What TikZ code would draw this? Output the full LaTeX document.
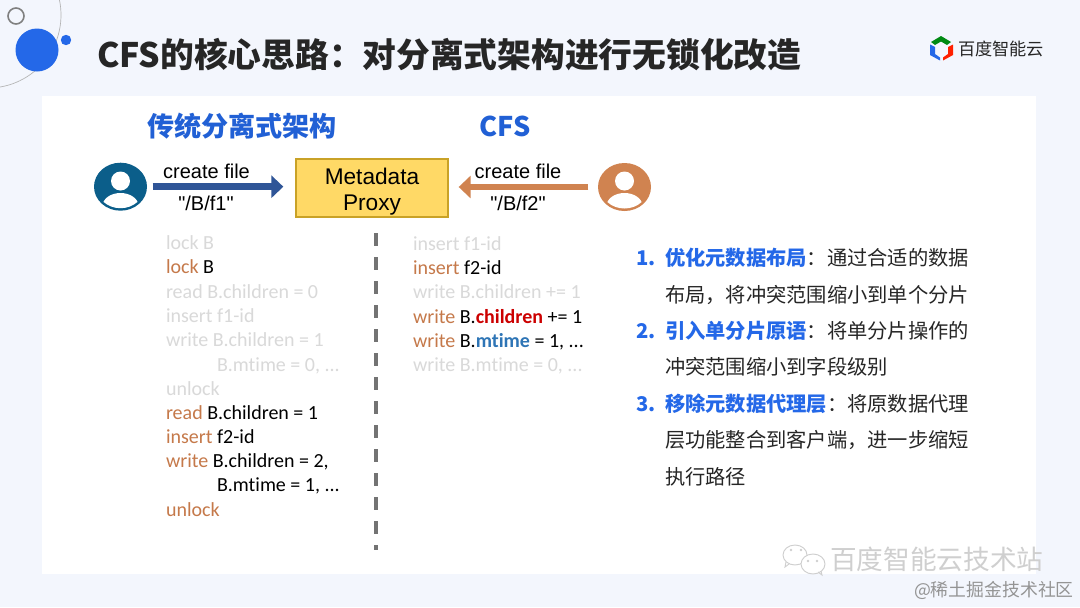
\documentclass[tikz,border=0pt]{standalone}
\usepackage{fontspec}
\usetikzlibrary{shapes.geometric,arrows.meta}
\newfontfamily\cjkf{Noto Sans CJK SC}
\newfontfamily\arialf{Liberation Sans}
\newfontfamily\codef[Ligatures=NoCommon]{Carlito}
\definecolor{bgc}{HTML}{F3F6FD}
\definecolor{blueA}{HTML}{2468E8}
\definecolor{ghost}{HTML}{D9D9D9}
\definecolor{orng}{HTML}{C5794A}
\definecolor{userO}{HTML}{D08350}
\definecolor{userB}{HTML}{0B5E8A}
\definecolor{arrB}{HTML}{2F5597}
\definecolor{dark}{HTML}{262626}
\definecolor{wm}{HTML}{CFCFCF}
\definecolor{boxF}{HTML}{FFD966}
\definecolor{boxE}{HTML}{C9A227}
\newcommand{\ok}[1]{\textcolor{orng}{#1}}
\tikzset{
 txt/.style={anchor=base west,inner sep=0pt,outer sep=0pt},
 code/.style={txt,font=\codef\fontsize{15pt}{18pt}\selectfont},
 ghostcode/.style={code,text=ghost},
 sans/.style={anchor=base,inner sep=0pt,font=\arialf\fontsize{15pt}{18pt}\selectfont},
 head/.style={anchor=base,inner sep=0pt,font=\cjkf\bfseries\fontsize{20.3pt}{24pt}\selectfont,text=blueA!92!black},
 item/.style={txt,font=\cjkf\fontsize{15.2pt}{18pt}\selectfont,text=dark},
 num/.style={txt,font=\cjkf\bfseries\fontsize{15.2pt}{18pt}\selectfont,text=blueA},
 user/.style={ellipse,minimum width=39.75pt,minimum height=36pt,inner sep=0pt,fill=#1},
 bigarrow/.style={draw=#1,line width=5pt,-{Triangle[length=9pt,width=16.5pt]}},
}
\begin{document}
\begin{tikzpicture}[x=0.75pt,y=-0.75pt]
\useasboundingbox (0,0) rectangle (1080,607);
\fill[bgc] (0,0) rectangle (1080,607);
\fill[white] (42,96) rectangle (1036,574);
% decoration
\begin{scope}
\clip (0,0) rectangle (200,100);
\draw[gray!60,line width=0.5pt] (-12,15) circle (73);
\end{scope}
\draw[gray,line width=1.2pt] (16,16) circle (8);
\fill[blueA] (37,50) circle (21.5);
\fill[blueA] (66,40) circle (5.2);
% title
\node[txt,font=\cjkf\bfseries\fontsize{25.3pt}{30pt}\selectfont,text=dark] (title) at (97,67.5) {CFS的核心思路：对分离式架构进行无锁化改造};
% logo
\fill[green!55!black!85!teal] (941,36) -- (951,42) -- (947,45) -- (941,41.5) -- (935,45) -- (931,42) -- cycle;
\fill[blueA] (930,44.5) -- (935,47) -- (935,54) -- (940,57.5) -- (940,60.5) -- (930,55) -- cycle;
\fill[red!75!orange] (953,44.5) -- (948,47) -- (948,54) -- (943,57.5) -- (943,60.5) -- (953,55) -- cycle;
\node[txt,font=\cjkf\fontsize{12.9pt}{16pt}\selectfont,text=dark] (logotext) at (958,55) {百度智能云};
% headings
\node[head] (hL) at (242,136) {传统分离式架构};
\node[head] (hR) at (505,136) {CFS};
% users + proxy
\node[user=userB] (uL) at (120.5,186.7) {};
\node[user=userO] (uR) at (624.5,187) {};
\node[draw=boxE,line width=1pt,fill=boxF,minimum width=114pt,minimum height=43.5pt,inner sep=0pt,align=center,font=\arialf\fontsize{17pt}{19.6pt}\selectfont,text depth=0pt] (proxy) at (372,188) {\raisebox{-1.4pt}{Metadata}\\\raisebox{-1.4pt}{Proxy}};
\begin{scope}
\path[clip] (120.5,186.7) ellipse (24 and 21.5);
\fill[white] (120.5,181) circle (9.5);
\fill[white] (120.5,206) ellipse (18 and 13);
\end{scope}
\begin{scope}
\path[clip] (624.5,187) ellipse (24 and 21.5);
\fill[white] (624.5,181) circle (9.5);
\fill[white] (624.5,206) ellipse (18 and 13);
\end{scope}
% arrows
\draw[bigarrow=arrB,shorten <=4pt,shorten >=9pt] (uL.east) -- (uL.east -| proxy.west);
\draw[bigarrow=userO,shorten <=7pt,shorten >=7.5pt] (uR.west) -- (uR.west -| proxy.east);
\node[sans] (cL) at (206.5,178) {create file};
\node[sans] (pL) at (206,210) {"/B/f1"};
\node[sans] (cR) at (518,178) {create file};
\node[sans] (pR) at (518,210.5) {"/B/f2"};
% divider
\coordinate (dTop) at (376,233);
\coordinate (dBot) at (376,550);
\draw[black!55,line width=2.8pt,dash pattern=on 10pt off 8pt] (dTop) -- (dBot);
% left code
\node[ghostcode] (l1) at (166,249) {lock B};
\node[code] (l2) at (166,273) {\ok{lock} B};
\node[ghostcode] (l3) at (166,298) {read B.children = 0};
\node[ghostcode] (l4) at (166,322) {insert f1-id};
\node[ghostcode] (l5) at (166,346) {write B.children = 1};
\node[ghostcode] (l6) at (217,371) {B.mtime = 0, ...};
\node[ghostcode] (l7) at (166,395) {unlock};
\node[code] (l8) at (166,419) {\ok{read} B.children = 1};
\node[code] (l9) at (166,443) {\ok{insert} f2-id};
\node[code] (l10) at (166,467) {\ok{write} B.children = 2,};
\node[code] (l11) at (217,491) {B.mtime = 1, ...};
\node[code] (l12) at (166,516) {\ok{unlock}};
% right code
\node[ghostcode] (r1) at (413,250) {insert f1-id};
\node[code] (r2) at (413,274) {\ok{insert} f2-id};
\node[ghostcode] (r3) at (413,298) {write B.children += 1};
\node[code] (r4) at (413,323) {\ok{write} B.{\bfseries\color{red!80!black}children} += 1};
\node[code] (r5) at (413,347) {\ok{write} B.{\bfseries\color[HTML]{2E75B6}mtime} = 1, ...};
\node[ghostcode] (r6) at (413,371) {write B.mtime = 0, ...};
% list
\node[num] (n1) at (636,265) {1.};
\node[item] (t1) at (665,265) {\textcolor{blueA}{\bfseries 优化元数据布局}：通过合适的数据};
\node[item] (t1b) at (665,302) {布局，将冲突范围缩小到单个分片};
\node[num] (n2) at (636,338) {2.};
\node[item] (t2) at (665,338) {\textcolor{blueA}{\bfseries 引入单分片原语}：将单分片操作的};
\node[item] (t2b) at (665,374) {冲突范围缩小到字段级别};
\node[num] (n3) at (636,411) {3.};
\node[item] (t3) at (665,411) {\textcolor{blueA}{\bfseries 移除元数据代理层}：将原数据代理};
\node[item] (t3b) at (665,447) {层功能整合到客户端，进一步缩短};
\node[item] (t3c) at (665,484) {执行路径};
% watermark
\draw[wm,line width=0.7pt,fill=white] (795,555) ellipse (12 and 10);
\draw[wm,line width=0.7pt,fill=white] (813,564) ellipse (12 and 10);
\draw[wm,line width=0.7pt] (818,572) -- (822,575) -- (821,571);
\draw[wm,line width=0.7pt] (789,564) -- (785,567) -- (786,562);
\fill[wm] (791,550) circle (1.3) (801,550) circle (1.3) (808,561) circle (1.3) (817,561) circle (1.3);
\node[txt,font=\cjkf\fontsize{20pt}{24pt}\selectfont,text=wm] (wm1) at (830,569) {百度智能云技术站};
\node[txt,font=\cjkf\fontsize{13.4pt}{16pt}\selectfont,text=black!42] (wm2) at (914,596) {@稀土掘金技术社区};
\end{tikzpicture}
\end{document}
